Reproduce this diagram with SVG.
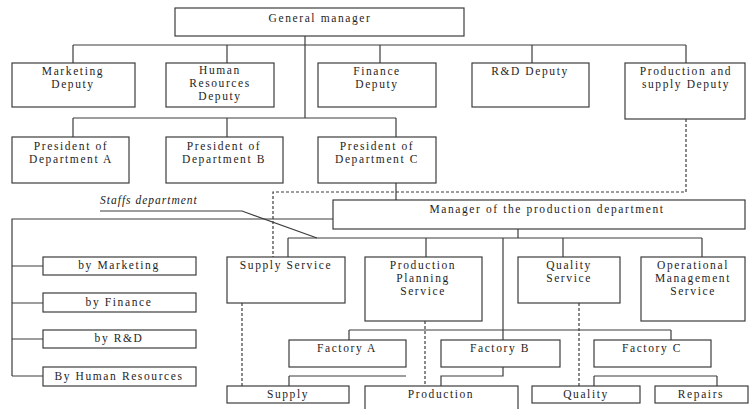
<svg xmlns="http://www.w3.org/2000/svg" width="751" height="409" viewBox="0 0 751 409">
<style>
.b{fill:#fff;stroke:#3c3c3c;stroke-width:1.2}
.t{font-family:"Liberation Serif","Times New Roman",serif;font-size:11.5px;letter-spacing:1.6px;fill:#1e1e1e;text-anchor:middle}
.c{fill:none;stroke:#3c3c3c;stroke-width:1.2}
.d{fill:none;stroke:#3c3c3c;stroke-width:1.2;stroke-dasharray:3,2}
.s{font-family:"Liberation Serif","Times New Roman",serif;font-size:11.5px;letter-spacing:1px;font-style:italic;fill:#222}
</style>
<rect width="751" height="409" fill="#fff"/>
<g id="connectors">
<path class="c" d="M305 36V118M73 45H686M73 45V63M227 45V63M380 45V63M532 45V63M686 45V63"/>
<path class="c" d="M73 118H396M73 118V137M227 118V137M396 118V137M396 183V200"/>
<path class="d" d="M686 119V192H273V257"/>
<path class="c" d="M333 219H12V376M12 266H43M12 303H43M12 339H43M12 376H43"/>
<path class="c" d="M100 211H242L317 238"/>
<path class="c" d="M518 229V238M288 238H702M288 238V257M426 238V257M563 238V257M702 238V257"/>
<path class="c" d="M503 238V340M349 330H671M349 330V340M671 330V340"/>
<path class="c" d="M289 376H406M289 376V386M503 367V376H441V386M594 376H717M594 376V386M717 376V386"/>
<path class="d" d="M242 303V386M425 321V386M579 303V386"/>
</g>
<text class="s" x="100" y="204">Staffs department</text>
<g id="gm"><rect class="b" x="175" y="8" width="289" height="28"/><text class="t" x="320" y="22">General manager</text></g>
<g id="marketing"><rect class="b" x="12" y="63" width="123" height="44"/><text class="t" x="73" y="75">Marketing</text><text class="t" x="73" y="88">Deputy</text></g>
<g id="hr"><rect class="b" x="166" y="63" width="108" height="44"/><text class="t" x="220" y="74">Human</text><text class="t" x="220" y="87">Resources</text><text class="t" x="220" y="100">Deputy</text></g>
<g id="finance"><rect class="b" x="318" y="63" width="118" height="44"/><text class="t" x="377" y="75">Finance</text><text class="t" x="377" y="88">Deputy</text></g>
<g id="rd"><rect class="b" x="472" y="63" width="117" height="44"/><text class="t" x="530" y="75">R&amp;D Deputy</text></g>
<g id="prodsupply"><rect class="b" x="625" y="63" width="120" height="56"/><text class="t" x="686" y="75">Production and</text><text class="t" x="686" y="88">supply Deputy</text></g>
<g id="presA"><rect class="b" x="12" y="137" width="117" height="46"/><text class="t" x="71" y="150">President of</text><text class="t" x="71" y="163">Department A</text></g>
<g id="presB"><rect class="b" x="166" y="137" width="117" height="46"/><text class="t" x="224" y="150">President of</text><text class="t" x="224" y="163">Department B</text></g>
<g id="presC"><rect class="b" x="318" y="137" width="118" height="46"/><text class="t" x="377" y="150">President of</text><text class="t" x="377" y="163">Department C</text></g>
<g id="manager"><rect class="b" x="333" y="200" width="412" height="29"/><text class="t" x="547" y="213">Manager of the production department</text></g>
<g id="byMarketing"><rect class="b" x="43" y="257" width="153" height="18"/><text class="t" x="119" y="269">by Marketing</text></g>
<g id="byFinance"><rect class="b" x="43" y="293" width="153" height="19"/><text class="t" x="119" y="306">by Finance</text></g>
<g id="byRD"><rect class="b" x="43" y="330" width="153" height="18"/><text class="t" x="119" y="342">by R&amp;D</text></g>
<g id="byHR"><rect class="b" x="43" y="367" width="153" height="19"/><text class="t" x="119" y="380">By Human Resources</text></g>
<g id="supplyService"><rect class="b" x="227" y="257" width="118" height="46"/><text class="t" x="286" y="269">Supply Service</text></g>
<g id="planning"><rect class="b" x="365" y="257" width="117" height="64"/><text class="t" x="423" y="269">Production</text><text class="t" x="423" y="282">Planning</text><text class="t" x="423" y="295">Service</text></g>
<g id="qualityService"><rect class="b" x="518" y="257" width="102" height="46"/><text class="t" x="569" y="269">Quality</text><text class="t" x="569" y="282">Service</text></g>
<g id="operational"><rect class="b" x="641" y="257" width="104" height="64"/><text class="t" x="693" y="269">Operational</text><text class="t" x="693" y="282">Management</text><text class="t" x="693" y="295">Service</text></g>
<g id="factoryA"><rect class="b" x="289" y="340" width="117" height="27"/><text class="t" x="347" y="352">Factory A</text></g>
<g id="factoryB"><rect class="b" x="441" y="340" width="119" height="27"/><text class="t" x="500" y="352">Factory B</text></g>
<g id="factoryC"><rect class="b" x="594" y="340" width="117" height="27"/><text class="t" x="652" y="352">Factory C</text></g>
<g id="supply"><rect class="b" x="227" y="386" width="122" height="17"/><text class="t" x="288" y="398">Supply</text></g>
<g id="production"><rect class="b" x="365" y="386" width="153" height="30"/><text class="t" x="441" y="398">Production</text></g>
<g id="quality"><rect class="b" x="532" y="386" width="108" height="17"/><text class="t" x="586" y="398">Quality</text></g>
<g id="repairs"><rect class="b" x="655" y="386" width="93" height="17"/><text class="t" x="701" y="398">Repairs</text></g>
</svg>
